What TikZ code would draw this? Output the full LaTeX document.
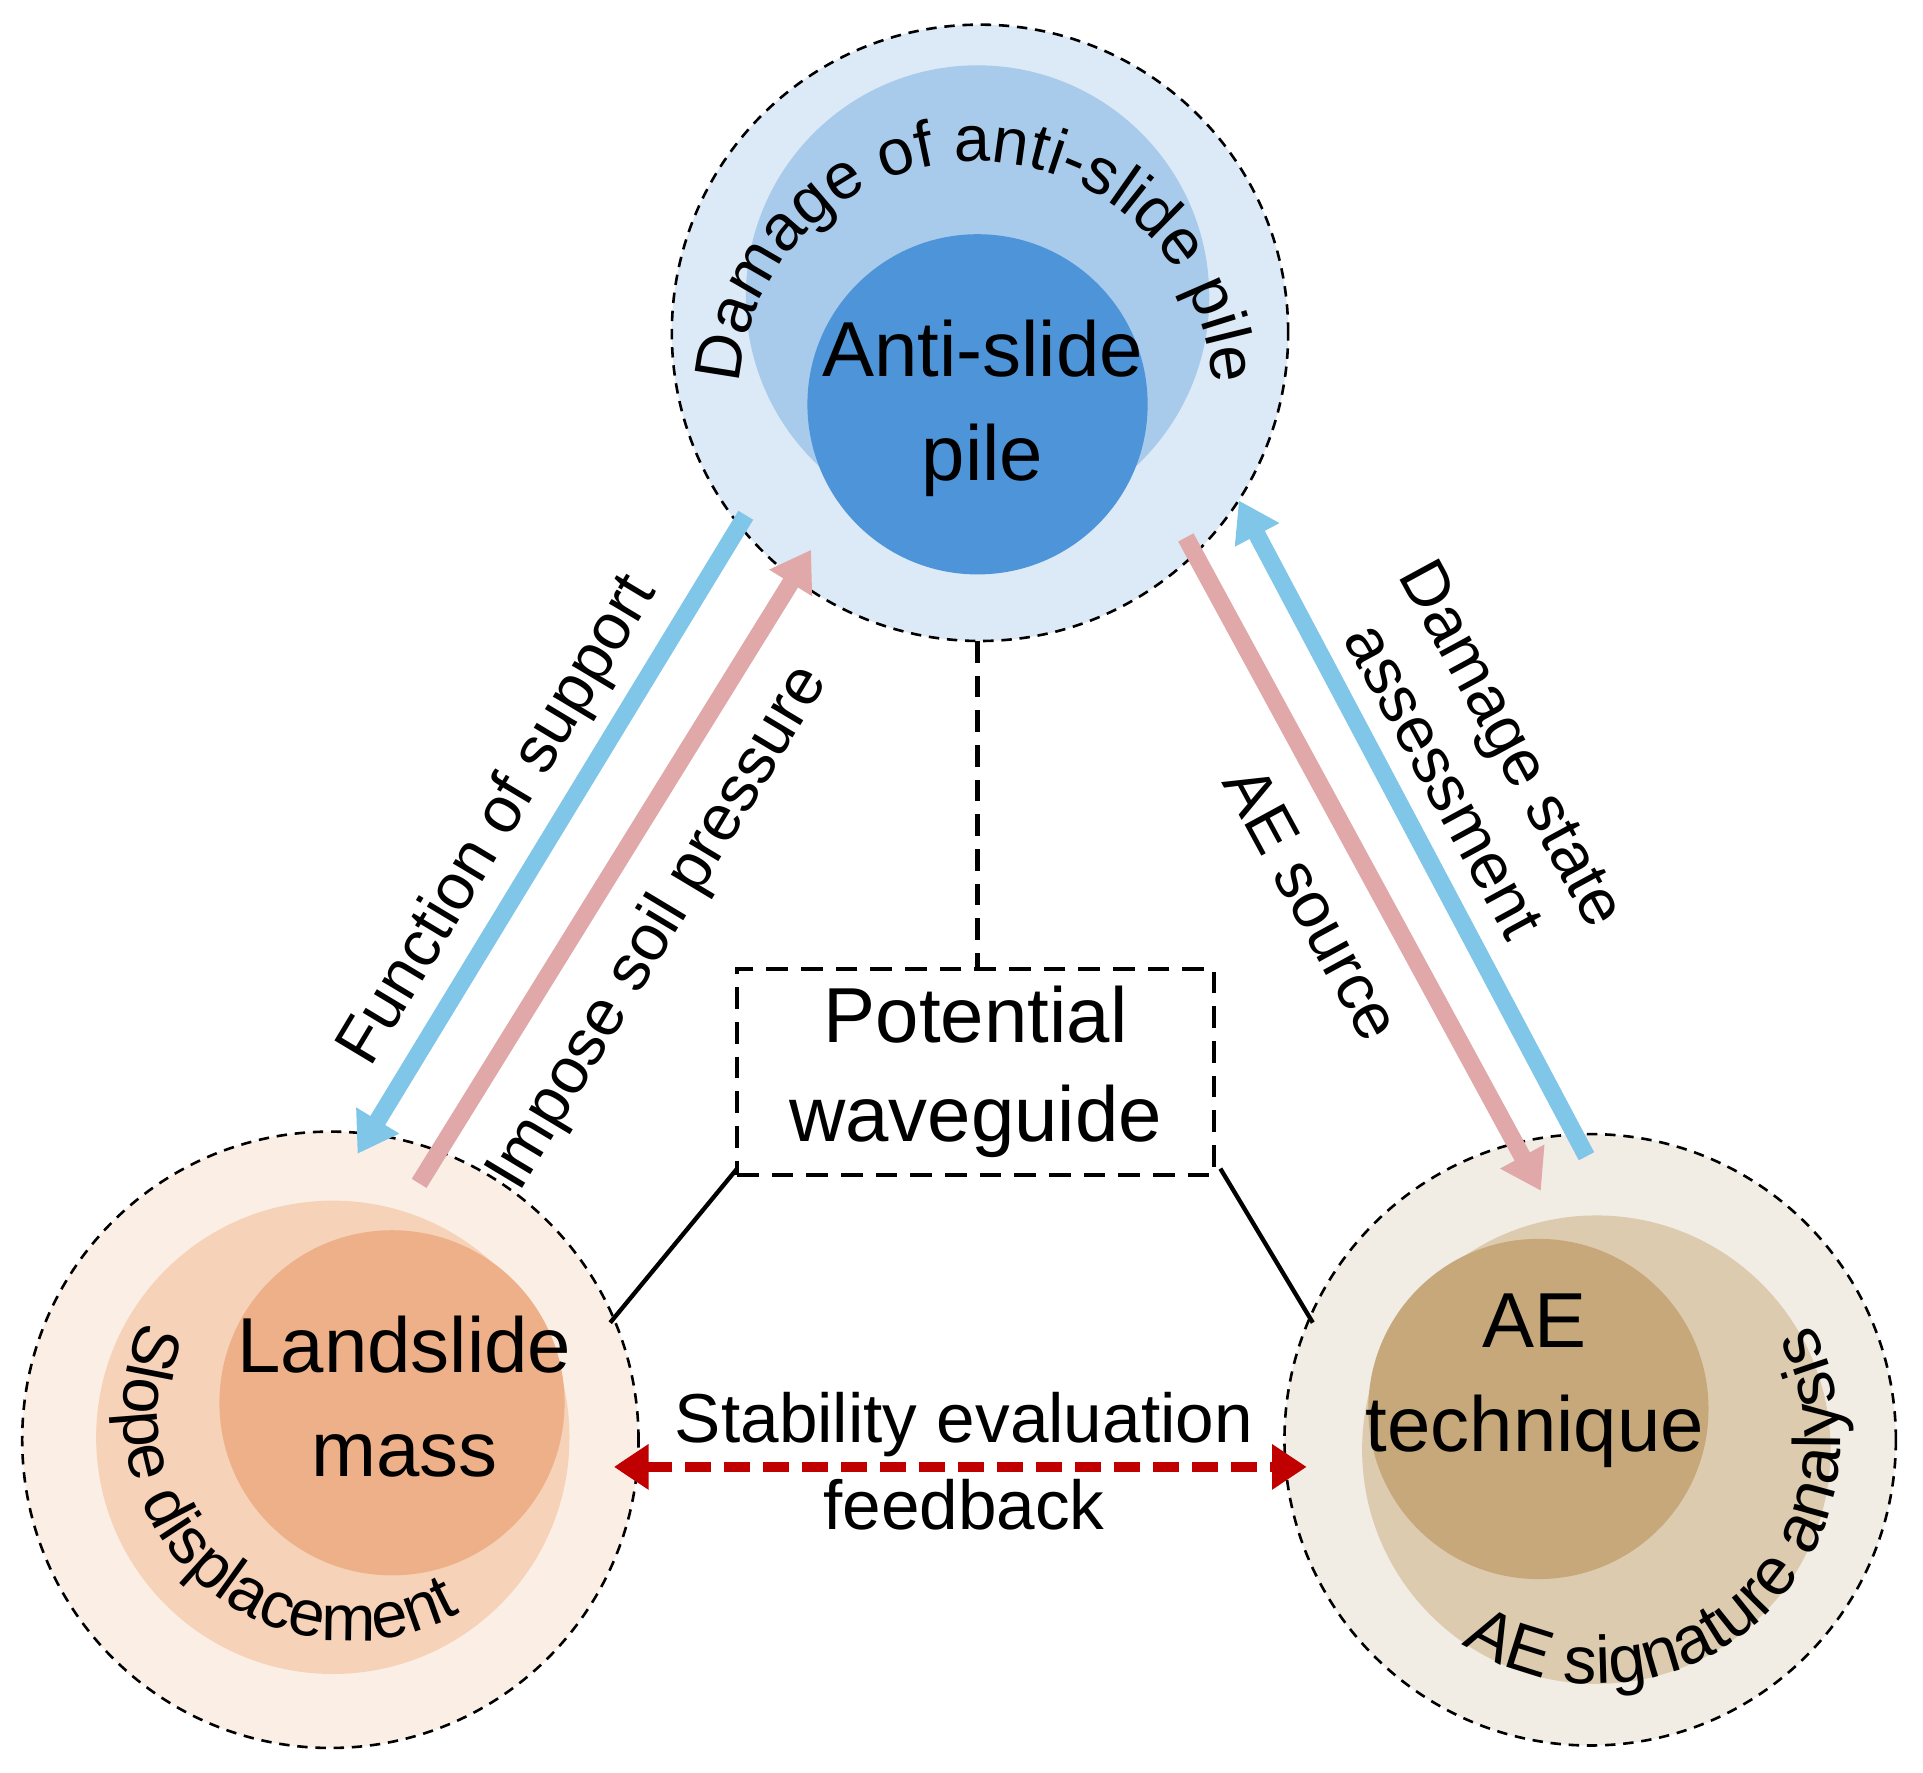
\documentclass[tikz,border=0pt]{standalone}
\usepackage{fontspec}
\setmainfont{Liberation Sans}
\usetikzlibrary{decorations.text,arrows.meta}
\definecolor{tA}{HTML}{DCE9F6}\definecolor{tB}{HTML}{A8CAEB}\definecolor{tC}{HTML}{4E94D8}
\definecolor{lA}{HTML}{FBEFE5}\definecolor{lB}{HTML}{F6D2B9}\definecolor{lC}{HTML}{EDB088}
\definecolor{rA}{HTML}{F1ECE4}\definecolor{rB}{HTML}{DCCBAE}\definecolor{rC}{HTML}{C6A87B}
\definecolor{blu}{HTML}{7FC6E8}\definecolor{pnk}{HTML}{E0A8A8}\definecolor{dred}{HTML}{C00000}
\tikzset{
 outer/.style={draw=black,line width=0.6pt,dash pattern=on 2.4pt off 1.8pt},
 big/.style={font=\fontsize{18}{22}\selectfont,align=center},
 lab/.style={font=\fontsize{15}{18}\selectfont,align=center},
 arr/.style={line width=4pt,-{Triangle[length=9pt,width=11pt]}},
}
\begin{document}
\begin{tikzpicture}[x=0.1mm,y=0.1mm]
\useasboundingbox (0,0) rectangle (1560,1438);
% top
\fill[tA] (795,1168) circle (250);
\fill[tB] (793,1197) circle (188);
\fill[tC] (793,1110) circle (138);
\draw[outer] (795,1168) circle (250);
% left
\fill[lA] (268,270) circle (250);
\fill[lB] (270,272) circle (192);
\fill[lC] (318,300) circle (140);
\draw[outer] (268,270) circle (250);
% right
\fill[rA] (1290,270) circle (248);
\fill[rB] (1295,262) circle (190);
\fill[rC] (1248,295) circle (138);
\draw[outer] (1290,270) circle (248);
% centre texts
\node[big] (pile) at (797,1107) {Anti-slide\\[2pt]pile};
\node[big] (land) at (328,305) {Landslide\\[2pt]mass};
\node[big] (ae) at (1245,318) {AE\\[2pt]technique};
% arc texts
\path[decorate,decoration={text along path,text align=center,
 text={|\fontsize{15}{18}\selectfont|Damage of anti-slide pile}}]
 (792,1115) ++(177:192) arc[start angle=177,end angle=3,radius=192];
\path[decorate,decoration={text along path,text align=center,
 text={|\fontsize{15}{18}\selectfont|Slope displacement}}]
 (285,292) ++(155:185) arc[start angle=155,end angle=300,radius=185];
\path[decorate,decoration={text along path,text align=center,
 text={|\fontsize{15.5}{18}\selectfont|AE signature analysis}}]
 (1295,270) ++(225:198) arc[start angle=225,end angle=400,radius=198];
% arrows
\coordinate (a1) at (605,1020); \coordinate (a2) at (290,502);
\coordinate (b1) at (340,478); \coordinate (b2) at (658,992);
\coordinate (c1) at (962,1002); \coordinate (c2) at (1250,472);
\coordinate (d1) at (1287,500); \coordinate (d2) at (1005,1032);
\draw[arr,blu] (a1) -- (a2);
\draw[arr,pnk] (b1) -- (b2);
\draw[arr,pnk] (c1) -- (c2);
\draw[arr,blu] (d1) -- (d2);
\node[lab,rotate=59] (fs) at (405,772) {Function of support};
\node[lab,rotate=59] (is) at (535,685) {Impose soil pressure};
\node[lab,rotate=-61.5] (aes) at (1065,705) {AE source};
\node[lab,rotate=-61.5] (dsa) at (1200,820) {Damage state\\assessment};
% waveguide
\node[draw,line width=1pt,dash pattern=on 5pt off 3pt,minimum width=387*0.1mm,minimum height=167*0.1mm] (wg) at (791.5,568.5) {};
\node[big] (wgt) at (wg.center) {Potential\\[1pt]waveguide};
\coordinate (tp) at (793,918);
\draw[line width=1pt,dash pattern=on 5pt off 3pt] (tp) -- (wg.north-|tp);
\coordinate (l0) at (598,490); \coordinate (l1) at (495,365);
\coordinate (r0) at (990,490); \coordinate (r1) at (1065,365);
\draw[line width=1pt] (l0) -- (l1);
\draw[line width=1pt] (r0) -- (r1);
% feedback
\coordinate (f1) at (498,248); \coordinate (f2) at (1060,248);
\draw[dred,line width=2.3pt,dash pattern=on 6pt off 3pt,{Triangle[length=8pt,width=10pt]}-{Triangle[length=8pt,width=10pt]}] (f1) -- (f2);
\node[font=\fontsize{16}{19}\selectfont] (st) at (782,282) {Stability evaluation};
\node[font=\fontsize{16}{19}\selectfont] (fb) at (782,217) {feedback};
\end{tikzpicture}
\end{document}
